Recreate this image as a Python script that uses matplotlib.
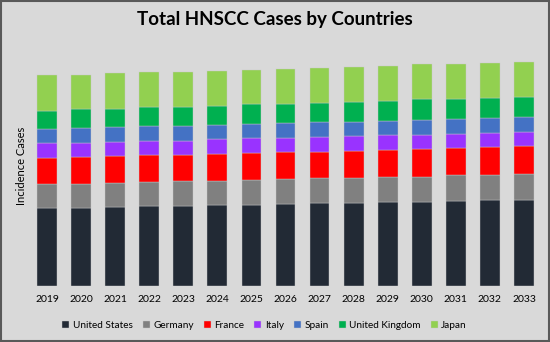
import numpy as np
import matplotlib
matplotlib.use("Agg")
import matplotlib.pyplot as plt
from matplotlib.patches import Rectangle

years = ['2019', '2020', '2021', '2022', '2023', '2024', '2025', '2026',
         '2027', '2028', '2029', '2030', '2031', '2032', '2033']

# incidence cases (thousands)
united_states = [77.7, 78.3, 79.0, 79.7, 80.0, 80.7, 81.3, 82.0, 82.7, 83.3, 84.0, 84.3, 85.0, 85.7, 86.3]
germany = [24.0, 24.0, 24.0, 24.0, 24.7, 24.6, 24.7, 24.7, 25.3, 25.0, 25.3, 25.0, 25.7, 25.6, 26.0]
france = [26.6, 26.7, 26.7, 27.0, 26.6, 26.7, 27.3, 27.3, 26.3, 27.0, 27.0, 27.7, 27.3, 27.7, 27.7]
italy = [14.4, 14.0, 14.6, 14.3, 14.0, 14.7, 14.4, 14.0, 15.0, 14.4, 14.7, 14.3, 14.3, 14.3, 14.3]
spain = [14.3, 14.7, 14.7, 14.7, 14.7, 14.6, 14.3, 14.7, 14.4, 14.6, 14.3, 15.0, 15.0, 15.0, 14.4]
united_kingdom = [18.3, 19.0, 18.3, 19.0, 19.0, 19.0, 19.7, 19.6, 19.6, 20.0, 20.0, 20.4, 20.0, 20.0, 20.3]
japan = [35.4, 34.6, 35.4, 35.0, 35.3, 35.0, 34.6, 35.0, 35.0, 34.7, 34.7, 35.0, 35.0, 35.0, 35.3]

series = [('United States', united_states, '#222a35'),
          ('Germany', germany, '#808080'),
          ('France', france, '#ff0000'),
          ('Italy', italy, '#9933ff'),
          ('Spain', spain, '#4472c4'),
          ('United Kingdom', united_kingdom, '#00b050'),
          ('Japan', japan, '#92d050')]

plt.rcParams['font.family'] = ['Lato', 'DejaVu Sans']
bg = '#d9d9d9'

fig = plt.figure(figsize=(5.5, 3.42), dpi=100, facecolor=bg)
fig.patches.append(Rectangle((0.002, 0.003), 0.996, 0.994, transform=fig.transFigure,
                             fill=False, edgecolor='#595959', linewidth=1.5))

ax = fig.add_axes([30 / 550, 56 / 342, 511 / 550, 240 / 342])
ax.set_facecolor(bg)

x = np.arange(len(years))
bottom = np.zeros(len(years))
handles = []
for name, vals, col in series:
    b = ax.bar(x, vals, 0.58, bottom=bottom, color=col, label=name,
               edgecolor='#c8c8c8', linewidth=0.3)
    bottom += np.array(vals)
    handles.append(b)

ax.set_xlim(-0.5, len(years) - 0.5)
ax.set_ylim(0, 240)
ax.set_xticks(x)
ax.set_xticklabels(years, fontsize=7.5)
ax.set_yticks([])
ax.tick_params(axis='x', length=0, pad=6.5)
for s in ax.spines.values():
    s.set_visible(False)

fig.text(22 / 550, 1 - 166 / 342, 'Incidence Cases', rotation=90, fontsize=8,
         ha='center', va='center')
fig.text(0.5, 1 - 19 / 342, 'Total HNSCC Cases by Countries', fontsize=13.5,
         fontweight='bold', ha='center', va='center')

fig.legend(handles=handles, loc='center', bbox_to_anchor=(0.481, 1 - 325 / 342),
           ncol=7, frameon=False, fontsize=7.2, handlelength=0.7, handleheight=0.7,
           handletextpad=0.35, columnspacing=1.0)

fig.savefig('out.png', dpi=100, facecolor=bg)
